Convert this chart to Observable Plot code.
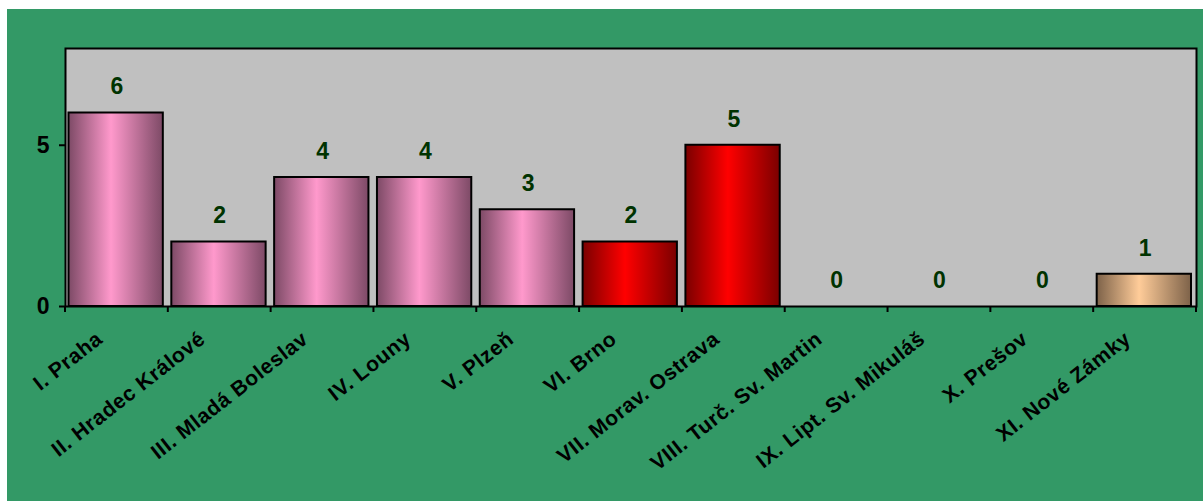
<!DOCTYPE html>
<html><head><meta charset="utf-8">
<script src="https://cdn.jsdelivr.net/npm/d3@7"></script>
<script src="https://cdn.jsdelivr.net/npm/@observablehq/plot@0.6"></script>
<style>
html,body{margin:0;padding:0;background:#fff;overflow:hidden}
#chart{position:absolute;left:7px;top:9px;width:1196px;height:492px;background:#339966}
</style></head><body><div id="chart"></div>
<script>
const categories = ["I. Praha","II. Hradec Králové","III. Mladá Boleslav","IV. Louny","V. Plzeň","VI. Brno","VII. Morav. Ostrava","VIII. Turč. Sv. Martin","IX. Lipt. Sv. Mikuláš","X. Prešov","XI. Nové Zámky"];
const values = [6,2,4,4,3,2,5,0,0,0,1];
const groups = ["pink","pink","pink","pink","pink","red","red","tan","tan","tan","tan"];
const yTicks = [0,5];
const gradients = [
  {id:"g-pink", dark:"#7d4a66", light:"#ff99cc"},
  {id:"g-red", dark:"#7a0000", light:"#ff0000"},
  {id:"g-tan", dark:"#7d6249", light:"#ffcc99"}
];
const data = categories.map((c,i)=>({c, v: values[i], g: groups[i]}));
const font = "'Liberation Sans', Arial, sans-serif";

const boundaryTicks = (index, scales, values, dims) => {
  const x = scales.x;
  const g = d3.create("svg:g");
  const xs = categories.map(c => x(c));
  xs.push(x(categories[categories.length-1]) + x.bandwidth());
  const yb = dims.height - dims.marginBottom;
  g.selectAll("line").data(xs).join("line")
    .attr("x1", d=>d).attr("x2", d=>d).attr("y1", yb).attr("y2", yb+6)
    .attr("stroke","black").attr("stroke-width",2);
  return g.node();
};

const barMarks = gradients.map(gr => Plot.barY(data.filter(d => d.g === gr.id.slice(2) && d.v > 0), {
  x:"c", y:"v", fill:`url(#${gr.id})`, stroke:"black", strokeWidth:2, insetLeft:3.5, insetRight:5
}));

const svg = Plot.plot({
  width:1196, height:492,
  marginLeft:58, marginRight:7, marginTop:39, marginBottom:195,
  style:{fontFamily:font, fontWeight:"bold", color:"black", background:"transparent", overflow:"visible"},
  x:{domain:categories, padding:0, round:false, axis:null},
  y:{domain:[0,8], axis:null},
  marks:[
    Plot.frame({fill:"#c0c0c0"}),
    ...barMarks,
    Plot.frame({stroke:"black", strokeWidth:2}),
    Plot.axisY(yTicks, {tickSize:6, tickPadding:10, fontSize:23, fontWeight:"bold", color:"black", strokeWidth:2, label:null, tickFormat:d=>String(d)}),
    boundaryTicks,
    Plot.text(data, {x:"c", y:"v", text:d=>String(d.v), dy:-26, fill:"#003300", fontSize:23, fontWeight:"bold"}),
    Plot.text(data, {x:"c", frameAnchor:"bottom", text:"c", dy:35, dx:-13, rotate:-38, textAnchor:"end", fontSize:21, fontWeight:"bold", fill:"black"})
  ]
});

const defs = d3.select(svg).insert("defs", ":first-child");
gradients.forEach(gr => {
  const lg = defs.append("linearGradient").attr("id", gr.id).attr("x1",0).attr("x2",1).attr("y1",0).attr("y2",0);
  lg.append("stop").attr("offset","0%").attr("stop-color", gr.dark);
  lg.append("stop").attr("offset","45%").attr("stop-color", gr.light);
  lg.append("stop").attr("offset","100%").attr("stop-color", gr.dark);
});
d3.select(svg).selectAll("text").filter(function(){ return categories.includes(this.textContent); }).attr("letter-spacing","0.6px");
document.getElementById("chart").appendChild(svg);
</script></body></html>
